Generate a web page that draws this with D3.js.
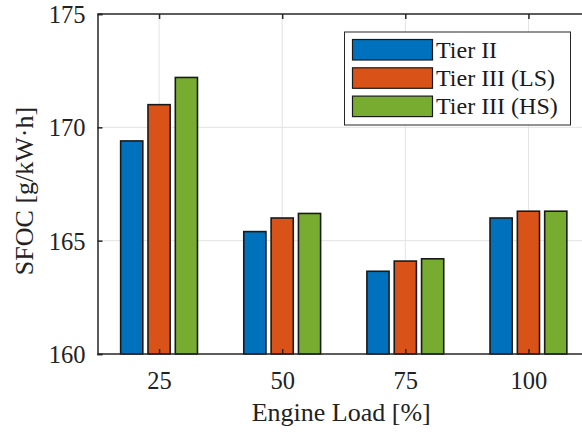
<!DOCTYPE html>
<html>
<head>
<meta charset="utf-8">
<script src="https://cdn.jsdelivr.net/npm/d3@7"></script>
<style>
  body { margin: 0; background: #fff; }
  svg { display: block; font-family: "Liberation Serif", "Times New Roman", serif; }
</style>
</head>
<body>
<div id="chart"></div>
<script>
// engine load categories and SFOC per tier
var loads = [25, 50, 75, 100];
var seriesNames = ["Tier II", "Tier III (LS)", "Tier III (HS)"];
var tierII = [169.4, 165.4, 163.65, 166.0];
var tierIIILS = [171.0, 166.0, 164.1, 166.3];
var tierIIIHS = [172.2, 166.2, 164.2, 166.3];
var yTicks = [160, 165, 170, 175];
var colors = ["#0072BD", "#D95319", "#77AC30"];

var width = 582, height = 432;
var plotLeft = 97.5, plotTop = 14, plotBottom = 354;

var svg = d3.select("#chart").append("svg")
    .attr("width", width)
    .attr("height", height);

// x is numeric like matlab's bar(x, Y)
var x = d3.scaleLinear().domain([12.5, 112.5]).range([plotLeft, plotLeft + 492.5]);
var y = d3.scaleLinear().domain([160, 175]).range([plotBottom, plotTop]);
var unit = x(1) - x(0);

// grid
var grid = svg.append("g").attr("stroke", "#e3e3e3").attr("stroke-width", 1);
grid.selectAll(".gy").data(yTicks.slice(1, 3))
    .enter().append("line")
    .attr("x1", plotLeft).attr("x2", width)
    .attr("y1", d => y(d)).attr("y2", d => y(d));
grid.selectAll(".gx").data(loads)
    .enter().append("line")
    .attr("x1", d => x(d)).attr("x2", d => x(d))
    .attr("y1", plotTop).attr("y2", plotBottom);

// bars
var allSeries = [tierII, tierIIILS, tierIIIHS];
var offsets = [-5.55, 0, 5.55];
var barW = 4.5 * unit;
allSeries.forEach(function (vals, s) {
    svg.append("g").selectAll("rect")
        .data(vals)
        .enter().append("rect")
        .attr("x", (d, i) => x(loads[i] + offsets[s]) - barW / 2)
        .attr("width", barW)
        .attr("y", d => y(d))
        .attr("height", d => plotBottom - y(d))
        .attr("fill", colors[s])
        .attr("stroke", "#1a1a1a")
        .attr("stroke-width", 1.6);
});

// axes (ticks point inward)
var yAxis = svg.append("g")
    .attr("transform", `translate(${plotLeft},0)`)
    .call(d3.axisLeft(y).tickValues(yTicks).tickSize(-5).tickPadding(12));
var xAxis = svg.append("g")
    .attr("transform", `translate(0,${plotBottom})`)
    .call(d3.axisBottom(x).tickValues(loads).tickSize(-5).tickPadding(18));
var topAxis = svg.append("g")
    .attr("transform", `translate(0,${plotTop})`)
    .call(d3.axisTop(x).tickValues(loads).tickSize(-5).tickFormat(""));

[yAxis, xAxis, topAxis].forEach(function (a) {
    a.attr("font-size", null).attr("font-family", null);
    a.select(".domain").attr("stroke", "#262626").attr("stroke-width", 1.5);
    a.selectAll(".tick line").attr("stroke", "#262626").attr("stroke-width", 1.5);
    a.selectAll("text")
        .attr("fill", "#222")
        .style("font-size", "24.5px");
});
xAxis.select(".domain").attr("d", `M${plotLeft},0H${width}`);
topAxis.select(".domain").attr("d", `M${plotLeft},0H${width}`);
yAxis.selectAll("text").attr("dy", "0.34em");

// axis labels
svg.append("text")
    .attr("x", (plotLeft + 589) / 2 - 2)
    .attr("y", 421)
    .attr("text-anchor", "middle")
    .attr("fill", "#222")
    .style("font-size", "26px")
    .text("Engine Load [%]");

svg.append("text")
    .attr("transform", "translate(33,191) rotate(-90)")
    .attr("text-anchor", "middle")
    .attr("fill", "#222")
    .style("font-size", "26px")
    .text("SFOC [g/kW·h]");

// legend
var legend = svg.append("g");
legend.append("rect")
    .attr("x", 344.5).attr("y", 32)
    .attr("width", 226).attr("height", 93)
    .attr("fill", "#fff")
    .attr("stroke", "#262626")
    .attr("stroke-width", 1);
var items = legend.selectAll(".item")
    .data(seriesNames)
    .enter().append("g")
    .attr("transform", (d, i) => `translate(0,${39.5 + i * 28.3})`);
items.append("rect")
    .attr("x", 352.5).attr("y", 0)
    .attr("width", 80).attr("height", 20.5)
    .attr("fill", (d, i) => colors[i])
    .attr("stroke", "#1a1a1a")
    .attr("stroke-width", 1.2);
items.append("text")
    .attr("x", 436)
    .attr("y", 18)
    .attr("fill", "#1a1a1a")
    .style("font-size", "24px")
    .text(d => d);
</script>
</body>
</html>
